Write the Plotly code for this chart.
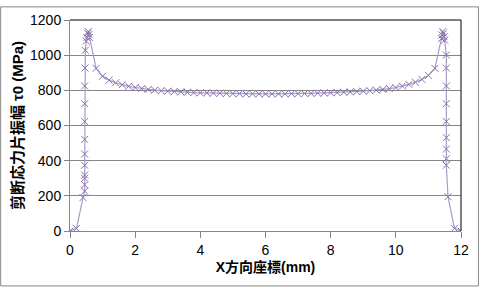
import plotly.graph_objects as go

# X coordinate (mm)
x_vals = [
    0.0, 0.2, 0.4,
    0.45, 0.45, 0.45, 0.45, 0.45, 0.45, 0.45, 0.45, 0.45, 0.45, 0.46, 0.47,
    0.50, 0.52, 0.54, 0.56, 0.58, 0.60,
    0.8, 1.0, 1.2, 1.4, 1.6, 1.8, 2.0, 2.2, 2.4, 2.6, 2.8, 3.0, 3.2, 3.4, 3.6, 3.8,
    4.0, 4.2, 4.4, 4.6, 4.8, 5.0, 5.2, 5.4, 5.6, 5.8, 6.0,
    6.2, 6.4, 6.6, 6.8, 7.0, 7.2, 7.4, 7.6, 7.8, 8.0, 8.2, 8.4, 8.6, 8.8, 9.0,
    9.2, 9.4, 9.6, 9.8, 10.0, 10.2, 10.4, 10.6, 10.8, 11.0, 11.2,
    11.40, 11.42, 11.44, 11.46, 11.48, 11.50,
    11.55, 11.55, 11.55, 11.55, 11.55, 11.55, 11.55, 11.55, 11.55,
    11.6, 11.8, 12.0,
]
# Shear stress amplitude tau0 (MPa)
y_vals = [
    0, 15, 190,
    227, 263, 300, 318, 374, 438, 521, 623, 724, 825, 927, 1028,
    1080, 1100, 1125, 1135, 1118, 1100,
    925, 880, 858, 843, 832, 823, 816, 810, 805, 801, 798, 795, 793, 791, 789, 787,
    786, 785, 784, 783, 782, 781, 781, 780, 780, 780, 780,
    780, 780, 780, 781, 781, 782, 783, 784, 785, 786, 787, 789, 791, 793, 795,
    798, 801, 805, 810, 816, 824, 834, 846, 862, 885, 925,
    1095, 1115, 1135, 1125, 1105, 1085,
    1001, 927, 825, 724, 623, 531, 466, 411, 374,
    195, 15, 0,
]

x_ticks = [0, 2, 4, 6, 8, 10, 12]
y_ticks = [0, 200, 400, 600, 800, 1000, 1200]

fig = go.Figure()
fig.add_trace(go.Scatter(
    x=x_vals, y=y_vals, mode="lines+markers",
    line=dict(color="#A89BC6", width=1.2),
    marker=dict(symbol="x-thin", size=7, line=dict(color="#8A72B0", width=1)),
    showlegend=False,
))

W, H = 481, 289
ml, mr, mt, mb = 70, 19, 14, 58
pw, ph = W - ml - mr, H - mt - mb

fig.update_layout(
    width=W, height=H,
    margin=dict(l=ml, r=mr, t=mt, b=mb),
    paper_bgcolor="white", plot_bgcolor="white",
    font=dict(family="Liberation Sans, Noto Sans CJK JP", size=14, color="black"),
    xaxis=dict(
        range=[0, 12], tickvals=x_ticks, showgrid=False, zeroline=False,
        showline=True, linecolor="#868686", linewidth=1,
        ticks="outside", ticklen=6, tickcolor="#868686",
        title=dict(text="<b>X方向座標(mm)</b>", font=dict(size=14), standoff=5),
    ),
    yaxis=dict(
        range=[0, 1200], tickvals=y_ticks, showgrid=True, gridcolor="#868686",
        gridwidth=1, zeroline=False,
        showline=True, linecolor="#868686", linewidth=1,
        ticks="outside", ticklen=5, tickcolor="#868686",
        title=dict(text="<b>剪断応力片振幅 τ0 (MPa)</b>", font=dict(size=15), standoff=2),
    ),
    shapes=[
        dict(type="line", xref="paper", yref="paper", x0=0, x1=1, y0=1, y1=1,
             line=dict(color="black", width=1)),
        dict(type="line", xref="paper", yref="paper", x0=1, x1=1, y0=0, y1=1,
             line=dict(color="black", width=1)),
        dict(type="rect", xref="paper", yref="paper",
             x0=-(ml - 0.5) / pw, x1=1 + (mr - 1.5) / pw,
             y0=-(mb - 1.5) / ph, y1=1 + (mt - 0.5) / ph,
             line=dict(color="#868686", width=1)),
    ],
)

fig.write_html("out.html")
